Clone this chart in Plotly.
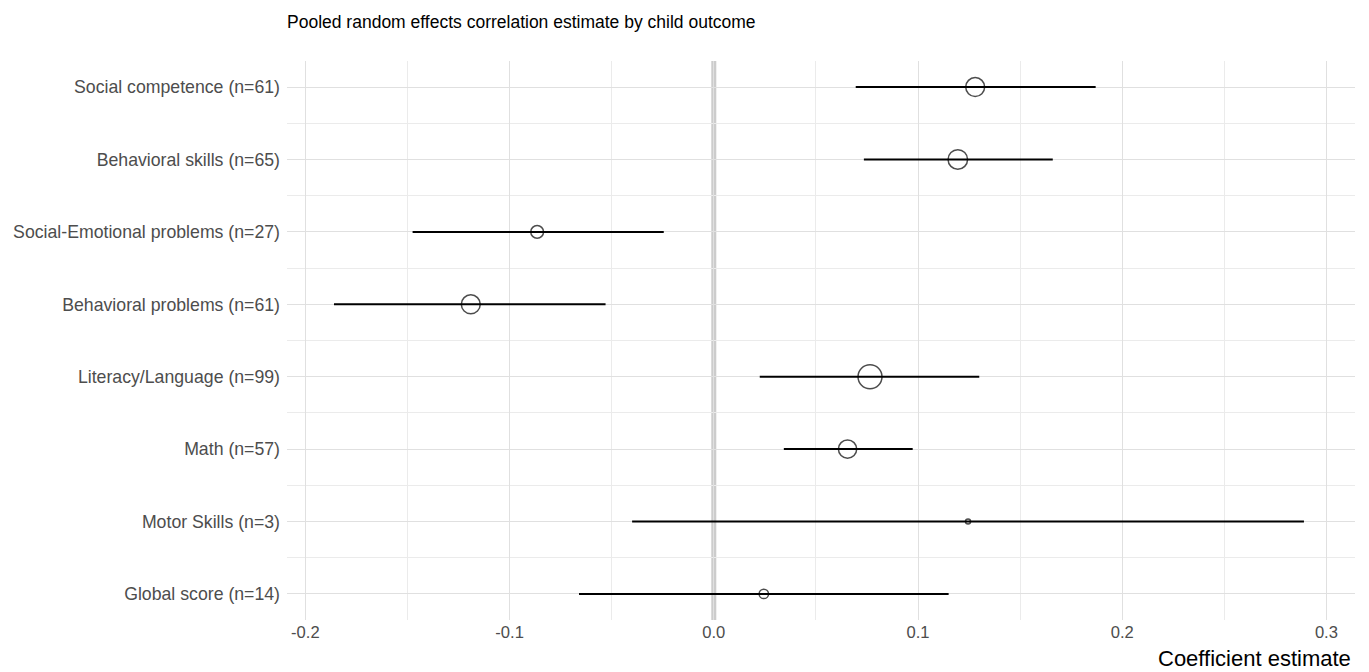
import plotly.graph_objects as go
import math

outcomes = ["Social competence (n=61)", "Behavioral skills (n=65)", "Social-Emotional problems (n=27)",
            "Behavioral problems (n=61)", "Literacy/Language (n=99)", "Math (n=57)",
            "Motor Skills (n=3)", "Global score (n=14)"]
n_studies = [61, 65, 27, 61, 99, 57, 3, 14]
estimate = [0.128, 0.1195, -0.0865, -0.119, 0.0765, 0.0655, 0.1245, 0.0245]
ci_low = [0.0695, 0.0735, -0.1475, -0.186, 0.0225, 0.0343, -0.040, -0.066]
ci_high = [0.187, 0.166, -0.0245, -0.053, 0.130, 0.0974, 0.289, 0.115]
x_ticks = [-0.2, -0.1, 0.0, 0.1, 0.2, 0.3]
x_ticktext = ["-0.2", "-0.1", "0.0", "0.1", "0.2", "0.3"]

k = len(outcomes)
ypos = [k - 1 - i for i in range(k)]
nmin, nmax = min(n_studies), max(n_studies)
dmin, dmax = 5.0, 24.0
sizes = [math.sqrt(dmin**2 + (n - nmin) / (nmax - nmin) * (dmax**2 - dmin**2)) for n in n_studies]

FONT = "Liberation Sans, Arial, sans-serif"

fig = go.Figure()
fig.add_trace(go.Scatter(
    x=estimate, y=ypos, mode="markers",
    marker=dict(symbol="circle-open", size=sizes, color="black", line=dict(width=1.5, color="black")),
    error_x=dict(type="data", symmetric=False,
                 array=[h - e for h, e in zip(ci_high, estimate)],
                 arrayminus=[e - l for e, l in zip(estimate, ci_low)],
                 width=0, thickness=2, color="black"),
    showlegend=False, hoverinfo="x+y"))

fig.add_vline(x=0, line=dict(color="#cccccc", width=5), layer="below")

W, H = 1361, 664
fig.update_layout(
    width=W, height=H,
    margin=dict(l=279, r=14, t=53, b=52, autoexpand=False),
    paper_bgcolor="white", plot_bgcolor="white",
    font=dict(family=FONT, color="#4d4d4d"),
    title=dict(text="Pooled random effects correlation estimate by child outcome",
               x=279/W, xanchor="left", y=1-14/H, yanchor="middle",
               font=dict(size=17.5, color="black", family=FONT)),
    xaxis=dict(range=[-0.209, 0.314], tickvals=x_ticks, ticktext=x_ticktext,
               showgrid=True, gridcolor="#e0e0e0", gridwidth=1, zeroline=False,
               showline=False, ticks="", tickfont=dict(size=16.6, color="#4d4d4d"),
               automargin=False,
               minor=dict(dtick=0.05, tick0=0, showgrid=True, gridcolor="#ebebeb", gridwidth=1)),
    yaxis=dict(range=[-0.36, k - 1 + 0.36], tickvals=ypos, ticktext=outcomes,
               showgrid=True, gridcolor="#e0e0e0", gridwidth=1, zeroline=False,
               showline=False, ticks="", ticklabelstandoff=6, automargin=False,
               tickfont=dict(size=17.7, color="#4d4d4d"),
               minor=dict(dtick=0.5, tick0=0, showgrid=True, gridcolor="#ebebeb", gridwidth=1)),
)
fig.add_annotation(text="Coefficient estimate", xref="paper", yref="paper",
                   x=1 - 2/1068, y=0, xanchor="right", yanchor="middle", yshift=-38,
                   showarrow=False, font=dict(size=22, color="black", family=FONT))

fig.write_html("out.html")
